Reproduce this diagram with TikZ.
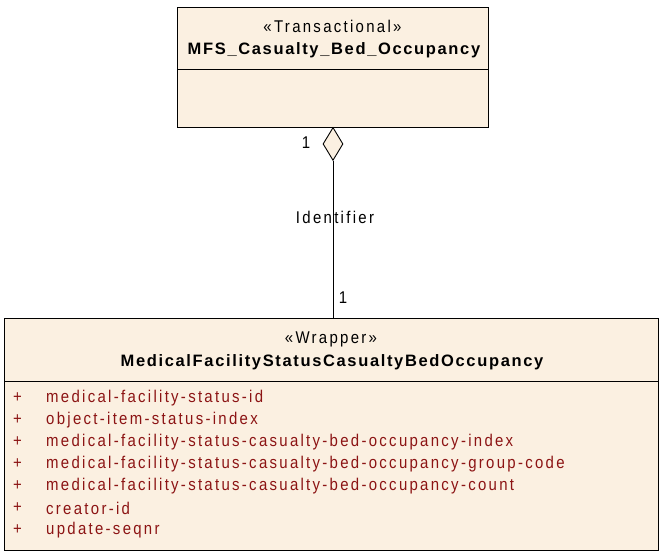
\documentclass[tikz,border=0pt]{standalone}
\usepackage{fontspec}
\setmainfont{Liberation Sans}
\usepackage{tikz}
\usetikzlibrary{shapes.geometric, arrows.meta, positioning, calc}
\definecolor{umlfill}{RGB}{251,240,225}
\definecolor{umlline}{RGB}{0,0,0}
\definecolor{attrred}{RGB}{140,20,20}
\newfontfamily\spacedfont[LetterSpace=13.5, FakeStretch=0.88]{Liberation Sans}
\newfontfamily\spacedbold[LetterSpace=10]{Liberation Sans Bold}
\tikzset{
  classbox/.style={rectangle, draw=umlline, fill=umlfill, line width=0.9pt,
    inner sep=0pt, anchor=north west},
  stereo/.style={font=\spacedfont\fontsize{17}{20}\selectfont, inner sep=0pt},
  classname/.style={font=\spacedbold\fontsize{16.5}{19}\selectfont, inner sep=0pt},
  attr/.style={font=\spacedfont\fontsize{17}{20}\selectfont, text=attrred,
    inner sep=0pt, anchor=west},
  mult/.style={font=\spacedfont\fontsize{17}{20}\selectfont, inner sep=0pt},
  aggr/.style={diamond, draw=umlline, fill=umlfill, line width=0.9pt,
    inner sep=0pt, minimum width=20pt, minimum height=33pt},
  line/.style={line width=0.9pt, color=umlline}
}
\begin{document}
\begin{tikzpicture}[x=1pt, y=-1pt]
  \useasboundingbox (0,0) rectangle (660,552);

  % transactional class
  \node [classbox, minimum width=311pt, minimum height=120pt] (mfs) at (177,7) {};
  \draw [line] (177,69) -- (488,69);
  \node [stereo] (mfsst) at (332.5,26) {«Transactional»};
  \node [classname] (mfsname) at (334,50) {MFS\_Casualty\_Bed\_Occupancy};

  % wrapper class
  \node [classbox, minimum width=654pt, minimum height=232pt] (wrap) at (4,318) {};
  \draw [line] (4,381) -- (658,381);
  \node [stereo] (wrapst) at (331,339) {«Wrapper»};
  \node [classname] (wrapname) at (332,362) {MedicalFacilityStatusCasualtyBedOccupancy};

  \foreach \txt [count=\i] in {medical-facility-status-id, object-item-status-index,
      medical-facility-status-casualty-bed-occupancy-index,
      medical-facility-status-casualty-bed-occupancy-group-code,
      medical-facility-status-casualty-bed-occupancy-count,
      creator-id, update-seqnr} {
    \node [attr] (plus\i) at (13,{376+22*\i}) {+};
    \node [attr] (attr\i) at (46,{376+22*\i}) {\txt};
  }

  % aggregation
  \node [aggr, anchor=north] (dia) at (333,127) {};
  \draw [line] (dia.south) -- (wrap.north -| dia.south);
  \node [mult] (m1) at (306,143) {1};
  \node [mult] (role) at (335,217) {Identifier};
  \node [mult] (m2) at (343,298) {1};
\end{tikzpicture}
\end{document}
